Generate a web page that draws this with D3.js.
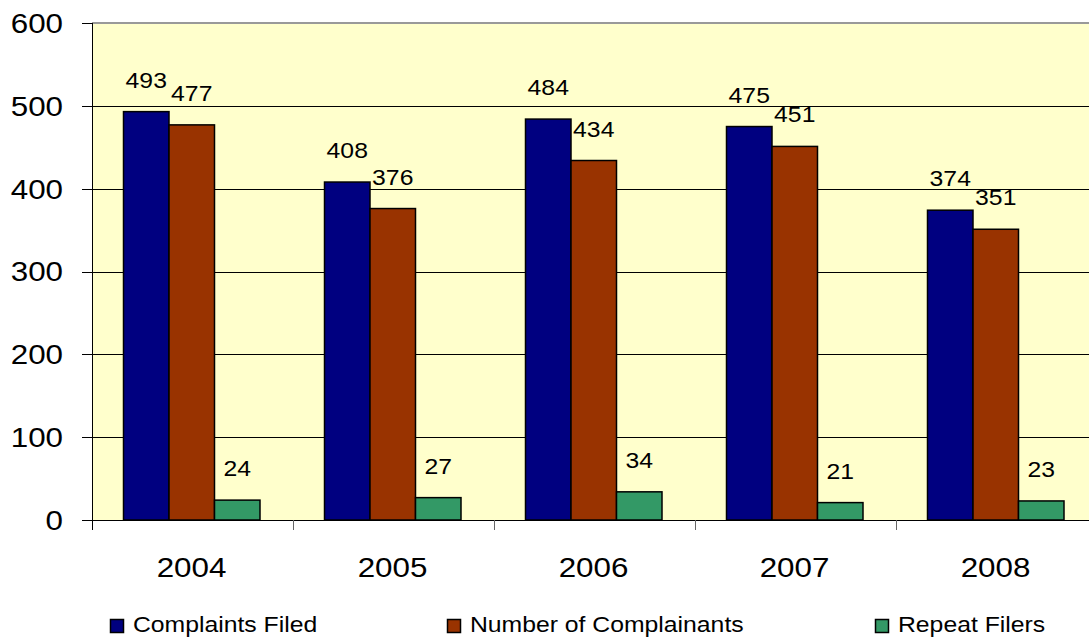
<!DOCTYPE html>
<html>
<head>
<meta charset="utf-8">
<script src="https://cdn.jsdelivr.net/npm/d3@7/dist/d3.min.js"></script>
<style>
  html, body { margin: 0; padding: 0; background: #ffffff; }
  svg { display: block; }
  text { font-family: "Liberation Sans", Arial, sans-serif; fill: #000; }
</style>
</head>
<body>
<svg id="chart" width="1089" height="639"></svg>
<script>
// ---- data ----
const years = ["2004", "2005", "2006", "2007", "2008"];
const seriesNames = ["Complaints Filed", "Number of Complainants", "Repeat Filers"];
const complaintsFiled = [493, 408, 484, 475, 374];
const numberOfComplainants = [477, 376, 434, 451, 351];
const repeatFilers = [24, 27, 34, 21, 23];
const yTicks = [0, 100, 200, 300, 400, 500, 600];
const seriesColors = ["#000080", "#993300", "#339966"];

const seriesValues = [complaintsFiled, numberOfComplainants, repeatFilers];

// ---- layout ----
const W = 1089, H = 639;
const plot = { left: 92, right: 1097, top: 23, bottom: 520 };
const sx = 1.1; // horizontal text stretch

const svg = d3.select("#chart");

const x = d3.scaleBand().domain(years).range([plot.left, plot.right]).padding(0);
const groupPadL = 31.5, groupPadR = 33;
const xs = d3.scaleBand().domain(d3.range(seriesNames.length))
  .range([groupPadL, x.bandwidth() - groupPadR]).padding(0);
const y = d3.scaleLinear().domain([0, 600]).range([plot.bottom, plot.top]);

function stretchText(sel, px, py) {
  return sel.attr("transform", `translate(${px},${py}) scale(${sx},1)`);
}

// plot background
svg.append("rect")
  .attr("x", plot.left).attr("y", plot.top)
  .attr("width", plot.right - plot.left).attr("height", plot.bottom - plot.top)
  .attr("fill", "#FFFFCC");

// gridlines
svg.append("g").selectAll("line")
  .data(yTicks.filter(t => t > 0 && t < 600))
  .join("line")
  .attr("x1", plot.left).attr("x2", plot.right)
  .attr("y1", d => Math.round(y(d)) + 0.5).attr("y2", d => Math.round(y(d)) + 0.5)
  .attr("stroke", "#000").attr("stroke-width", 1);

// top border (gray)
svg.append("line")
  .attr("x1", plot.left).attr("x2", plot.right)
  .attr("y1", y(600)).attr("y2", y(600))
  .attr("stroke", "#999").attr("stroke-width", 2);

// bars
const groups = svg.append("g").selectAll("g")
  .data(years)
  .join("g")
  .attr("transform", d => `translate(${x(d)},0)`);

groups.selectAll("rect")
  .data((d, i) => seriesValues.map((s, k) => ({ k, v: s[i] })))
  .join("rect")
  .attr("x", d => xs(d.k))
  .attr("y", d => y(d.v))
  .attr("width", xs.bandwidth())
  .attr("height", d => y(0) - y(d.v))
  .attr("fill", d => seriesColors[d.k])
  .attr("stroke", "#000")
  .attr("stroke-width", 1.5);

// data labels
groups.selectAll("text.lbl")
  .data((d, i) => seriesValues.map((s, k) => ({ k, v: s[i] })))
  .join("text")
  .attr("class", "lbl")
  .attr("text-anchor", "middle")
  .attr("font-size", 22.5)
  .each(function (d) {
    stretchText(d3.select(this), xs(d.k) + xs.bandwidth() / 2, y(d.v) - 24);
  })
  .text(d => String(d.v));

// y axis
const yAxis = svg.append("g");
yAxis.append("line")
  .attr("x1", plot.left + 0.5).attr("x2", plot.left + 0.5)
  .attr("y1", plot.top).attr("y2", plot.bottom + 10)
  .attr("stroke", "#000").attr("stroke-width", 1);
yAxis.selectAll("line.tick")
  .data(yTicks)
  .join("line")
  .attr("class", "tick")
  .attr("x1", plot.left - 10).attr("x2", plot.left)
  .attr("y1", d => Math.round(y(d)) + 0.5).attr("y2", d => Math.round(y(d)) + 0.5)
  .attr("stroke", "#000");
yAxis.selectAll("text")
  .data(yTicks)
  .join("text")
  .attr("text-anchor", "end")
  .attr("dominant-baseline", "central")
  .attr("font-size", 28.5)
  .each(function (d) { stretchText(d3.select(this), 63, y(d)); })
  .text(d => String(d));

// x axis
const xAxis = svg.append("g");
xAxis.append("line")
  .attr("x1", plot.left).attr("x2", plot.right)
  .attr("y1", plot.bottom + 0.5).attr("y2", plot.bottom + 0.5)
  .attr("stroke", "#000");
xAxis.selectAll("line.tick")
  .data(years.slice(1))
  .join("line")
  .attr("class", "tick")
  .attr("x1", d => Math.round(x(d)) + 0.5).attr("x2", d => Math.round(x(d)) + 0.5)
  .attr("y1", plot.bottom).attr("y2", plot.bottom + 10)
  .attr("stroke", "#666");
xAxis.selectAll("text")
  .data(years)
  .join("text")
  .attr("text-anchor", "middle")
  .attr("font-size", 28.5)
  .each(function (d) { stretchText(d3.select(this), x(d) + x.bandwidth() / 2 - 1, 577); })
  .text(d => d);

// legend
const legendX = [110, 447, 875];
const legend = svg.append("g").selectAll("g")
  .data(seriesNames)
  .join("g")
  .attr("transform", (d, i) => `translate(${legendX[i]},619)`);
legend.append("rect")
  .attr("x", 0.5).attr("y", 0.5)
  .attr("width", 13).attr("height", 13)
  .attr("fill", (d, i) => seriesColors[i])
  .attr("stroke", "#000").attr("stroke-width", 1.5);
legend.append("text")
  .attr("font-size", 22.5)
  .each(function () { stretchText(d3.select(this), 23, 13); })
  .text(d => d);
</script>
</body>
</html>
